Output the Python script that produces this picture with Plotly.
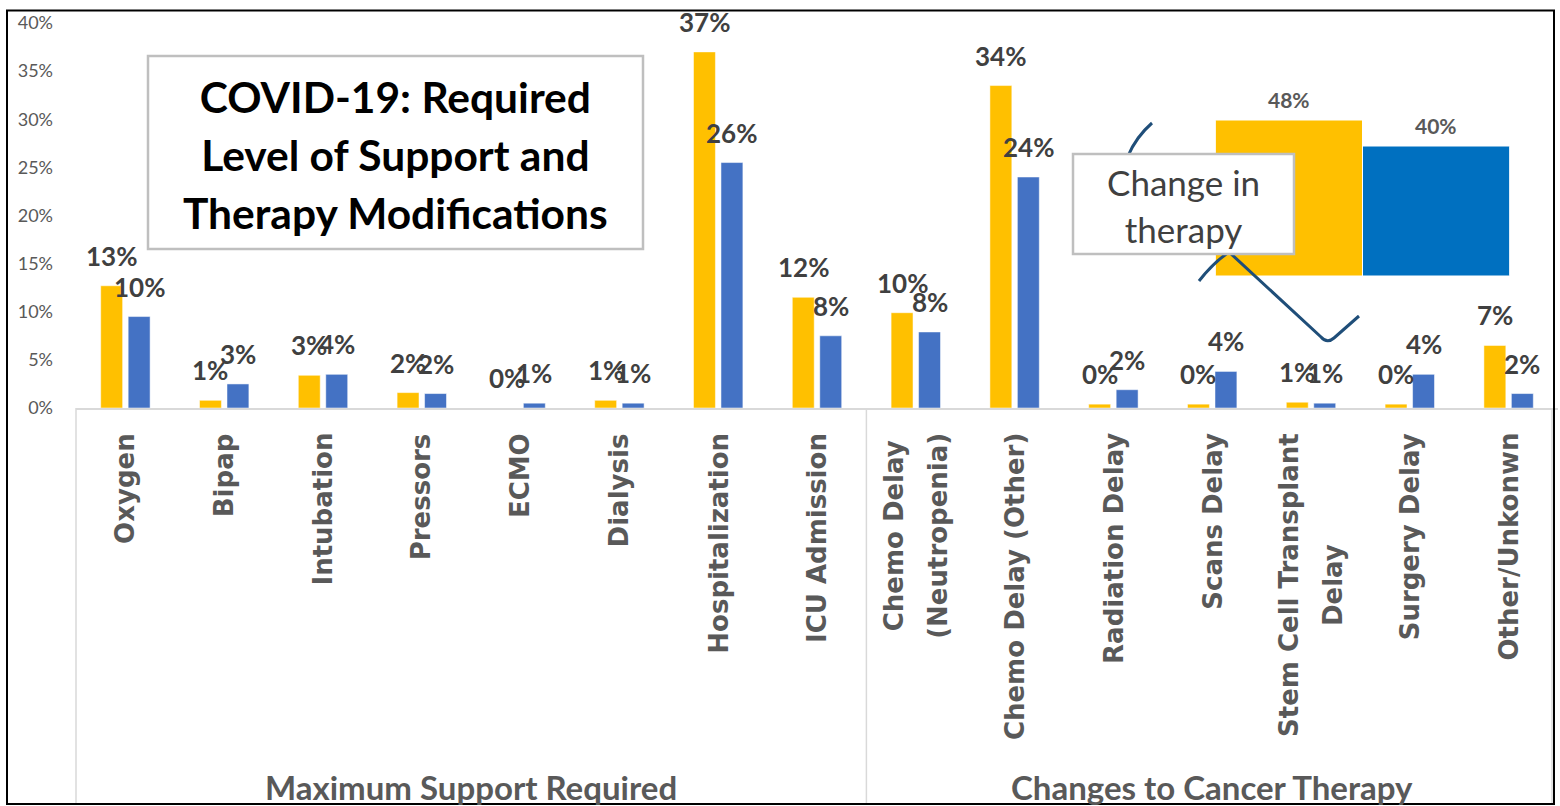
import plotly.graph_objects as go

# ---------------- data ----------------
categories = [
    ["Oxygen"], ["Bipap"], ["Intubation"], ["Pressors"], ["ECMO"], ["Dialysis"],
    ["Hospitalization"], ["ICU Admission"],
    ["Chemo Delay", "(Neutropenia)"], ["Chemo Delay (Other)"], ["Radiation Delay"],
    ["Scans Delay"], ["Stem Cell Transplant", "Delay"], ["Surgery Delay"], ["Other/Unkonwn"],
]
groups = ["Maximum Support Required", "Changes to Cancer Therapy"]
group_sizes = [8, 7]

gold_values = [0.127, 0.008, 0.034, 0.016, 0.000, 0.008, 0.370, 0.115,
               0.099, 0.335, 0.004, 0.004, 0.006, 0.004, 0.065]
gold_labels = ["13%", "1%", "3%", "2%", "0%", "1%", "37%", "12%",
               "10%", "34%", "0%", "0%", "1%", "0%", "7%"]
blue_values = [0.095, 0.025, 0.035, 0.015, 0.005, 0.005, 0.255, 0.075,
               0.079, 0.240, 0.019, 0.038, 0.005, 0.035, 0.015]
blue_labels = ["10%", "3%", "4%", "2%", "1%", "1%", "26%", "8%",
               "8%", "24%", "2%", "4%", "1%", "4%", "2%"]

inset_values = [0.48, 0.40]
inset_labels = ["48%", "40%"]
inset_title = ["Change in", "therapy"]

title_lines = ["COVID-19: Required", "Level of Support and", "Therapy Modifications"]

y_ticks = [0, 0.05, 0.10, 0.15, 0.20, 0.25, 0.30, 0.35, 0.40]

# ---------------- style ----------------
W, H = 1560, 806
L, R, T, B = 76, 1558, 23, 408
GOLD = "#FFC000"
BLUE = "#4472C4"
BLUE2 = "#0070C0"
GREY_TXT = "#595959"
DARK_TXT = "#404040"
AXIS_GREY = "#D9D9D9"
BAR_W = 0.222
GOLD_OFF = -0.25
BLUE_OFF = 0.028


def px(x):
    return (x - L) / (R - L)


def py(y):
    return (B - y) / (B - T)


n = len(categories)
xs = list(range(n))

fig = go.Figure()
fig.add_trace(go.Bar(x=xs, y=gold_values, width=BAR_W, offset=GOLD_OFF,
                     marker=dict(color=GOLD, line=dict(color="rgba(255,255,255,0.5)", width=1)),
                     hoverinfo="skip", showlegend=False))
fig.add_trace(go.Bar(x=xs, y=blue_values, width=BAR_W, offset=BLUE_OFF,
                     marker=dict(color=BLUE, line=dict(color="rgba(255,255,255,0.5)", width=1)),
                     hoverinfo="skip", showlegend=False))

# inset chart
fig.add_trace(go.Bar(x=[0, 1], y=inset_values, width=1, xaxis="x2", yaxis="y2",
                     marker=dict(color=[GOLD, BLUE2], line=dict(color="white", width=1)),
                     hoverinfo="skip", showlegend=False))

annotations = []
# data labels
for vals, labs, off in ((gold_values, gold_labels, GOLD_OFF), (blue_values, blue_labels, BLUE_OFF)):
    for i, (v, t) in enumerate(zip(vals, labs)):
        annotations.append(dict(x=i + off + BAR_W / 2, y=v, xref="x", yref="y", text=t,
                                showarrow=False, yanchor="bottom", yshift=12,
                                font=dict(family="Lato", size=26, color=DARK_TXT, weight="bold")))

# category labels
for i, lines in enumerate(categories):
    if len(lines) == 1:
        txt = lines[0]
        fsize = 26
    else:
        txt = "<br>".join("<span style='font-size:26px'>%s</span>" % s for s in lines)
        fsize = 34
    annotations.append(dict(x=i, y=py(431), xref="x", yref="paper", text=txt,
                            showarrow=False, textangle=-90, yanchor="top", xanchor="center",
                            align="center",
                            font=dict(family="DejaVu Sans", size=fsize, color=GREY_TXT, weight="bold")))

# group labels
start = 0
for g, sz in zip(groups, group_sizes):
    center = start + sz / 2 - 0.5
    annotations.append(dict(x=center, y=py(787), xref="x", yref="paper", text=g,
                            showarrow=False, yanchor="middle",
                            font=dict(family="Lato", size=33, color=GREY_TXT, weight="bold")))
    start += sz

# inset labels
for i, (v, t) in enumerate(zip(inset_values, inset_labels)):
    annotations.append(dict(x=i, y=v, xref="x2", yref="y2", text=t, showarrow=False,
                            yanchor="bottom", yshift=6,
                            font=dict(family="Lato", size=21, color=GREY_TXT, weight="bold")))

# title text
annotations.append(dict(x=px(395.5), y=py(154), xref="paper", yref="paper",
                        text="<br>".join("<span style='font-size:42.5px'>%s</span>" % s for s in title_lines),
                        showarrow=False, align="center", xanchor="center", yanchor="middle",
                        font=dict(family="Lato", size=44.6, color="black", weight="bold")))

# change in therapy text
annotations.append(dict(x=px(1183.5), y=py(205), xref="paper", yref="paper",
                        text="<br>".join("<span style='font-size:35px'>%s</span>" % s for s in inset_title),
                        showarrow=False, align="center", xanchor="center", yanchor="middle",
                        font=dict(family="Lato", size=36, color=DARK_TXT)))

shapes = []
# category axis box lines
for xline in (76, 866.4, 1552):
    shapes.append(dict(type="line", xref="paper", yref="paper", x0=px(xline), x1=px(xline),
                       y0=py(408), y1=py(803), line=dict(color=AXIS_GREY, width=1.5), layer="above"))
# title box
shapes.append(dict(type="rect", xref="paper", yref="paper", x0=px(148), x1=px(643),
                   y0=py(56), y1=py(249), line=dict(color="#BFBFBF", width=2.5), fillcolor="white",
                   layer="above"))
# bracket
bracket_a = "M %f,%f Q %f,%f %f,%f L %f,%f" % (
    px(1152), py(123), px(1136), py(137), px(1128), py(156), px(1140), py(175))
bracket_b = "M %f,%f Q %f,%f %f,%f L %f,%f Q %f,%f %f,%f L %f,%f" % (
    px(1199), py(281), px(1213), py(263), px(1229), py(252),
    px(1321), py(337), px(1327), py(344), px(1334), py(338), px(1359), py(316))
for pth in (bracket_a, bracket_b):
    shapes.append(dict(type="path", xref="paper", yref="paper", path=pth,
                       line=dict(color="#1F4E79", width=3), layer="above"))
# change in therapy box
shapes.append(dict(type="rect", xref="paper", yref="paper", x0=px(1073), x1=px(1294),
                   y0=py(154), y1=py(254), line=dict(color="#BFBFBF", width=2.5), fillcolor="white",
                   layer="above"))
# outer frame
shapes.append(dict(type="rect", xref="paper", yref="paper", x0=px(7), x1=px(1554),
                   y0=py(10.5), y1=py(804), line=dict(color="black", width=2), layer="above"))

fig.update_layout(
    width=W, height=H,
    margin=dict(l=L, r=W - R, t=T, b=H - B, pad=0),
    paper_bgcolor="white", plot_bgcolor="white",
    barmode="overlay",
    xaxis=dict(range=[-0.5, n - 0.5], showticklabels=False, ticks="", showgrid=False,
               zeroline=False, showline=True, linecolor=AXIS_GREY, linewidth=1.5, fixedrange=True),
    yaxis=dict(range=[0, 0.40], tickvals=y_ticks, tickformat=".0%", showgrid=False, zeroline=False,
               showline=False, ticks="", ticklabelstandoff=22,
               tickfont=dict(family="Lato", size=18, color=GREY_TXT), fixedrange=True),
    xaxis2=dict(domain=[px(1215.5), px(1509.5)], range=[-0.5, 1.5], anchor="y2", visible=False),
    yaxis2=dict(domain=[py(276), py(113.5)], range=[0, 0.5], anchor="x2", visible=False),
    annotations=annotations,
    shapes=shapes,
    showlegend=False,
)

fig.write_html("out.html", config={"displayModeBar": False},
               post_script="document.body.style.margin='0';document.body.style.overflow='hidden';")
